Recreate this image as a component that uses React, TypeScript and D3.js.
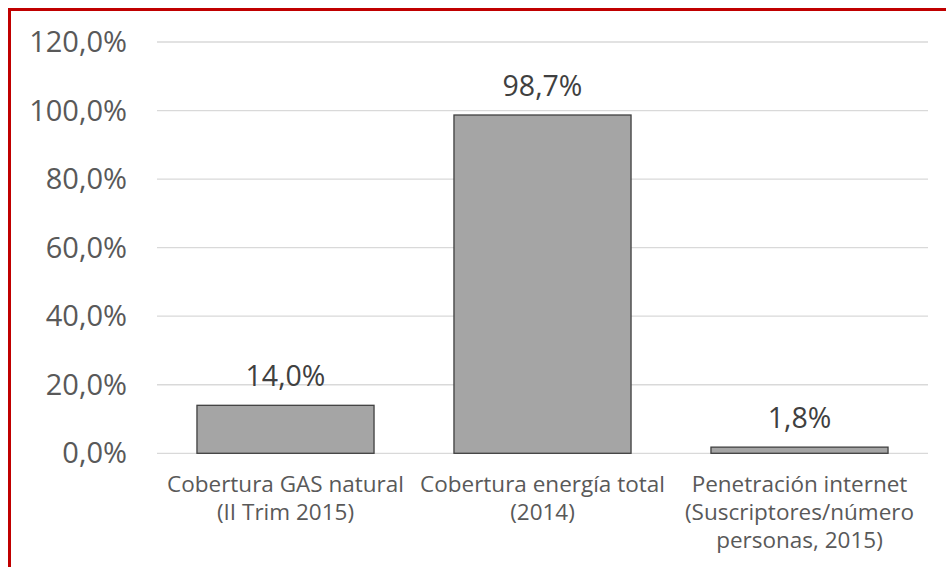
import React from "react";
import * as d3 from "d3";

const categories: string[][] = [
  ["Cobertura GAS natural", "(II Trim 2015)"],
  ["Cobertura energía total", "(2014)"],
  ["Penetración internet", "(Suscriptores/número", "personas, 2015)"],
];
const values: number[] = [0.14, 0.987, 0.018];
const yTicks: number[] = [0, 0.2, 0.4, 0.6, 0.8, 1.0, 1.2];

const W = 946;
const H = 567;
const FONT = "'Open Sans', 'Noto Sans', sans-serif";

const fmt = (v: number) => (v * 100).toFixed(1).replace(".", ",") + "%";

export default function App() {
  const x = d3
    .scaleBand<number>()
    .domain(d3.range(values.length))
    .range([157, 928])
    .paddingInner(0.311)
    .paddingOuter(0.1555);
  const y = d3.scaleLinear().domain([0, 1.2]).range([453.3, 42]);

  return (
    <svg
      width={W}
      height={H}
      style={{ position: "absolute", left: 0, top: 0, background: "#fff" }}
      fontFamily={FONT}
    >
      <rect x={0} y={0} width={W} height={H} fill="#fff" />
      {/* red frame */}
      <rect x={9.5} y={9.5} width={W + 20} height={H + 20} fill="none" stroke="#c00000" strokeWidth={3} />
      {/* grid */}
      {yTicks.map((t) => (
        <line key={t} x1={157} x2={928} y1={y(t)} y2={y(t)} stroke="#d9d9d9" strokeWidth={1.3} />
      ))}
      {/* y tick labels */}
      {yTicks.map((t) => (
        <text
          key={"l" + t}
          x={127}
          y={y(t)}
          dy="0.35em"
          textAnchor="end"
          fontSize={29}
          fill="#595959"
        >
          {fmt(t)}
        </text>
      ))}
      {/* bars */}
      {values.map((v, i) => (
        <rect
          key={i}
          x={x(i)!}
          y={y(v)}
          width={x.bandwidth()}
          height={y(0) - y(v)}
          fill="#a5a5a5"
          stroke="#404040"
          strokeWidth={1.3}
        />
      ))}
      {/* data labels */}
      {values.map((v, i) => (
        <text
          key={"d" + i}
          x={x(i)! + x.bandwidth() / 2}
          y={y(v) - 19.5}
          textAnchor="middle"
          fontSize={28.5}
          fill="#404040"
        >
          {fmt(v)}
        </text>
      ))}
      {/* category labels */}
      {categories.map((lines, i) => (
        <text
          key={"c" + i}
          x={x(i)! + x.bandwidth() / 2}
          textAnchor="middle"
          fontSize={22.5}
          fill="#595959"
        >
          {lines.map((ln, j) => (
            <tspan key={j} x={x(i)! + x.bandwidth() / 2} y={492 + j * 28}>
              {ln}
            </tspan>
          ))}
        </text>
      ))}
    </svg>
  );
}
